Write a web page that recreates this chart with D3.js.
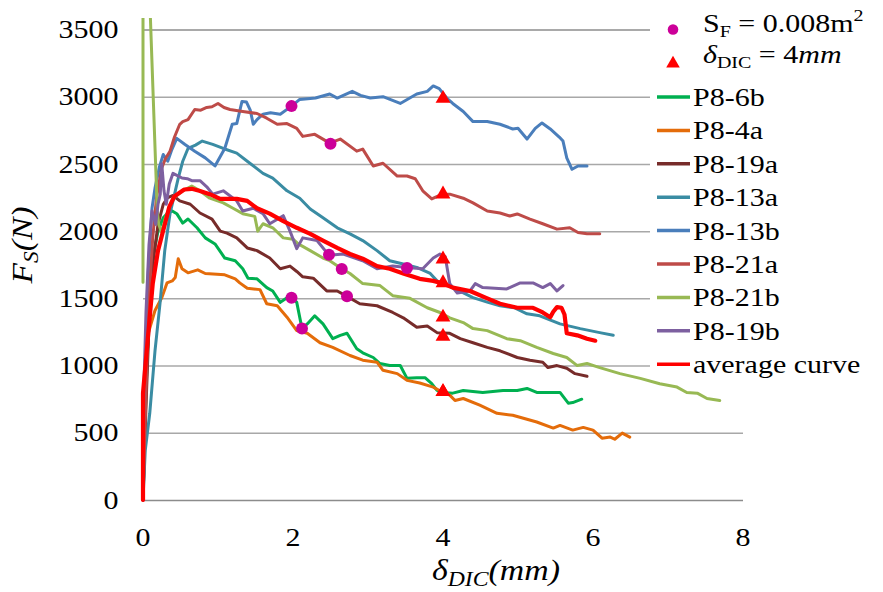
<!DOCTYPE html>
<html><head><meta charset="utf-8">
<script src="https://cdn.jsdelivr.net/npm/d3@7"></script>
<style>
body{margin:0;background:#fff}
svg{display:block}
</style>
</head><body>
<svg id="c" width="883" height="592" font-family="'Liberation Serif', Tinos, 'Times New Roman', 'DejaVu Serif', serif"></svg>
<script>
// ---------------- DATA ----------------
const xTicks = [0, 2, 4, 6, 8];
const yTicks = [0, 500, 1000, 1500, 2000, 2500, 3000, 3500];
const seriesNames = ["P8-6b","P8-4a","P8-19a","P8-13a","P8-13b","P8-21a","P8-21b","P8-19b","average curve"];

const p8_6b = [[0,0],[0.04,800],[0.08,1400],[0.13,1800],[0.2,2000],[0.27,2100],[0.32,2130],[0.39,2150],[0.45,2130],[0.53,2060],[0.6,2090],[0.72,2025],[0.83,1950],[0.96,1905],[1.09,1800],[1.23,1780],[1.33,1720],[1.4,1650],[1.52,1645],[1.65,1580],[1.73,1555],[1.83,1470],[1.92,1505],[1.99,1505],[2.05,1470],[2.12,1275],[2.19,1310],[2.29,1370],[2.4,1310],[2.53,1200],[2.63,1225],[2.72,1240],[2.85,1125],[2.93,1095],[3.07,1060],[3.16,1015],[3.29,1000],[3.43,1000],[3.52,905],[3.65,910],[3.76,910],[3.85,865],[3.92,815],[4.0,800],[4.13,795],[4.27,815],[4.53,800],[4.8,815],[4.99,815],[5.12,830],[5.25,800],[5.56,800],[5.67,720],[5.73,725],[5.85,750]];
const p8_4a = [[0,0],[0.02,500],[0.04,900],[0.07,1240],[0.16,1410],[0.25,1505],[0.32,1615],[0.39,1630],[0.43,1655],[0.47,1795],[0.52,1720],[0.6,1690],[0.73,1712],[0.83,1685],[1.09,1675],[1.23,1645],[1.29,1615],[1.39,1575],[1.56,1565],[1.65,1460],[1.79,1445],[1.92,1360],[2.05,1260],[2.19,1240],[2.36,1170],[2.53,1135],[2.76,1075],[2.93,1040],[3.12,1025],[3.2,965],[3.39,940],[3.52,890],[3.69,870],[3.87,840],[4.0,800],[4.09,780],[4.16,740],[4.27,755],[4.49,705],[4.72,645],[4.93,630],[5.25,580],[5.47,535],[5.56,555],[5.73,520],[5.87,540],[6.0,520],[6.12,460],[6.23,468],[6.29,452],[6.39,498],[6.49,468]];
const p8_19a = [[0,0],[0.04,700],[0.08,1300],[0.13,1750],[0.2,2050],[0.27,2200],[0.33,2250],[0.4,2265],[0.49,2225],[0.63,2200],[0.76,2135],[0.92,2090],[1.03,2000],[1.12,1985],[1.25,1950],[1.39,1875],[1.52,1855],[1.69,1800],[1.83,1720],[1.96,1740],[2.05,1700],[2.13,1660],[2.27,1650],[2.45,1555],[2.59,1555],[2.72,1515],[2.89,1460],[3.12,1445],[3.33,1395],[3.47,1355],[3.65,1285],[3.79,1295],[3.92,1245],[4.09,1240],[4.23,1200],[4.4,1170],[4.59,1135],[4.76,1110],[4.99,1060],[5.16,1040],[5.33,1025],[5.4,985],[5.52,1000],[5.65,980],[5.76,940],[5.92,920]];
const p8_13a = [[0,0],[0.03,370],[0.09,645],[0.16,1110],[0.23,1480],[0.29,1855],[0.36,2130],[0.41,2250],[0.47,2395],[0.53,2520],[0.6,2615],[0.7,2640],[0.79,2670],[0.93,2645],[1.07,2615],[1.25,2580],[1.39,2520],[1.6,2430],[1.73,2395],[1.92,2300],[2.09,2245],[2.23,2165],[2.4,2100],[2.59,2025],[2.76,1980],[2.93,1930],[3.12,1855],[3.29,1780],[3.47,1755],[3.65,1730],[3.83,1685],[3.92,1630],[4.13,1580],[4.4,1505],[4.6,1470],[4.76,1445],[4.95,1430],[5.12,1385],[5.29,1370],[5.56,1310],[5.83,1275],[6.09,1245],[6.27,1225]];
const p8_13b = [[0,0],[0.03,900],[0.07,1700],[0.12,2170],[0.16,2320],[0.22,2480],[0.27,2570],[0.33,2520],[0.38,2600],[0.45,2690],[0.56,2645],[0.69,2595],[0.83,2545],[0.96,2485],[1.09,2615],[1.19,2795],[1.25,2800],[1.32,2965],[1.38,2960],[1.43,2900],[1.47,2795],[1.52,2830],[1.6,2870],[1.7,2880],[1.83,2870],[1.98,2930],[2.09,2980],[2.3,2990],[2.49,3020],[2.59,2990],[2.79,3040],[2.9,3010],[3.03,2990],[3.2,3000],[3.43,2950],[3.65,3020],[3.79,3040],[3.87,3080],[3.95,3060],[4.05,2990],[4.13,2950],[4.27,2890],[4.4,2815],[4.59,2815],[4.76,2795],[4.93,2760],[5.0,2765],[5.12,2685],[5.23,2765],[5.32,2805],[5.43,2760],[5.55,2700],[5.6,2670],[5.65,2545],[5.72,2460],[5.8,2485],[5.92,2485]];
const p8_21a = [[0,0],[0.04,800],[0.08,1500],[0.13,1950],[0.18,2250],[0.25,2470],[0.3,2540],[0.36,2595],[0.42,2700],[0.49,2795],[0.53,2815],[0.6,2830],[0.69,2905],[0.77,2900],[0.85,2920],[0.92,2925],[1.0,2950],[1.08,2920],[1.16,2905],[1.33,2890],[1.52,2875],[1.65,2840],[1.79,2795],[1.92,2800],[2.05,2765],[2.13,2705],[2.29,2720],[2.49,2655],[2.63,2685],[2.85,2595],[2.93,2610],[3.07,2485],[3.2,2505],[3.39,2410],[3.52,2410],[3.63,2390],[3.73,2300],[3.85,2240],[3.99,2275],[4.09,2275],[4.27,2245],[4.4,2210],[4.59,2150],[4.76,2135],[4.89,2113],[4.99,2128],[5.16,2090],[5.33,2055],[5.52,2015],[5.69,2025],[5.8,1990],[5.92,1980],[6.09,1980]];
const p8_21b = [[0,1620],[0,3800],[0.085,3800],[0.19,2155],[0.21,2050],[0.25,1990],[0.3,2100],[0.4,2245],[0.53,2300],[0.65,2335],[0.76,2300],[0.89,2245],[1.07,2210],[1.2,2170],[1.33,2130],[1.49,2110],[1.53,2000],[1.6,2055],[1.73,2025],[1.87,1950],[2.0,1940],[2.07,1905],[2.23,1855],[2.4,1800],[2.49,1780],[2.65,1720],[2.76,1685],[2.93,1610],[3.16,1595],[3.33,1520],[3.56,1500],[3.79,1430],[3.96,1395],[4.09,1355],[4.27,1320],[4.4,1275],[4.59,1260],[4.85,1200],[5.03,1185],[5.25,1135],[5.47,1090],[5.65,1060],[5.79,1000],[5.92,1015],[6.09,985],[6.36,940],[6.63,905],[6.89,865],[7.12,840],[7.25,800],[7.39,795],[7.52,755],[7.69,740]];
const p8_19b = [[0,0],[0.01,800],[0.04,1400],[0.08,1900],[0.12,2150],[0.17,2050],[0.2,2200],[0.23,2275],[0.25,2500],[0.28,2300],[0.31,2200],[0.35,2350],[0.4,2430],[0.52,2395],[0.59,2390],[0.65,2375],[0.76,2375],[0.85,2330],[0.93,2275],[1.07,2300],[1.25,2225],[1.33,2150],[1.47,2170],[1.6,2130],[1.69,2055],[1.87,2115],[1.96,2000],[2.05,1870],[2.13,1950],[2.32,1930],[2.48,1820],[2.67,1830],[2.93,1780],[3.12,1720],[3.33,1740],[3.52,1730],[3.73,1720],[3.87,1800],[3.96,1830],[4.03,1810],[4.09,1610],[4.19,1540],[4.36,1555],[4.43,1610],[4.53,1580],[4.85,1570],[5.03,1615],[5.2,1615],[5.33,1580],[5.43,1610],[5.52,1555],[5.6,1595]];
const avgCurve = [[0,0],[0,795],[0.07,1240],[0.13,1610],[0.2,1855],[0.29,2050],[0.35,2180],[0.42,2260],[0.55,2310],[0.65,2315],[0.75,2300],[0.89,2275],[1.03,2240],[1.25,2240],[1.39,2225],[1.52,2170],[1.69,2130],[1.87,2075],[2.05,2025],[2.23,1980],[2.4,1930],[2.59,1875],[2.76,1830],[2.93,1795],[3.12,1740],[3.29,1720],[3.47,1685],[3.69,1645],[3.87,1630],[4.0,1610],[4.13,1580],[4.36,1555],[4.59,1500],[4.76,1460],[4.99,1430],[5.2,1430],[5.33,1395],[5.43,1360],[5.47,1400],[5.52,1435],[5.58,1430],[5.62,1380],[5.65,1240],[5.79,1225],[5.92,1200],[6.03,1185]];

// S_F = 0.008 m^2 points (circles)
const sfX = [1.98, 2.12, 2.72, 3.52, 1.98, 2.5, 2.65, 2.48];
const sfY = [1505, 1275, 1515, 1725, 2930, 2650, 1718, 1825];
// delta_DIC = 4 mm points (triangles)
const dicX = [4, 4, 4, 4, 4, 4, 4, 4];
const dicY = [805, 805, 1217, 1615, 2986, 2275, 1360, 1792];

// ---------------- STYLE ----------------
const seriesData = [p8_6b, p8_4a, p8_19a, p8_13a, p8_13b, p8_21a, p8_21b, p8_19b, avgCurve];
const colors = ["#00B050","#E46C0A","#772C2A","#3A8CA3","#4A7EBB","#BE4B48","#98B954","#7D60A0","#FF0000"];
const widths = [3,3,3,3,3,3,3,3,4.2];

const svg = d3.select("#c");
const x = d3.scaleLinear().domain([0, 8]).range([143, 743]);
const y = d3.scaleLinear().domain([0, 3500]).range([500, 29.5]);

svg.append("defs").append("clipPath").attr("id","clip")
  .append("rect").attr("x",136).attr("y",18).attr("width",620).attr("height",490);

// gridlines
const grid = svg.append("g").attr("transform",`translate(${x(0)},0)`)
  .call(d3.axisLeft(y).tickValues(yTicks).tickSize(-(x(8)-x(0))).tickFormat(""));
grid.select(".domain").remove();
grid.selectAll(".tick line")
  .attr("stroke", d => (d === 0 || d === 3500) ? "#8C8C8C" : "#A8A8A8")
  .attr("stroke-width", 1.5);

// y tick labels
svg.append("g").selectAll("g").data(yTicks).join("g")
  .attr("transform", d => `translate(118.5,${y(d)+8.7}) scale(1,0.84)`)
  .append("text").attr("text-anchor","end").attr("font-size",30).attr("fill","#000").text(d => d);

// x tick labels
svg.append("g").selectAll("g").data(xTicks).join("g")
  .attr("transform", d => `translate(${x(d)},545.5) scale(1,0.84)`)
  .append("text").attr("text-anchor","middle").attr("font-size",30).attr("fill","#000").text(d => d);

// curves
const line = d3.line().x(d => x(d[0])).y(d => y(d[1]));
const plot = svg.append("g").attr("clip-path","url(#clip)");
plot.selectAll("path.s").data(seriesData).join("path")
  .attr("class","s")
  .attr("d", line)
  .attr("fill","none")
  .attr("stroke",(d,i)=>colors[i])
  .attr("stroke-width",(d,i)=>widths[i])
  .attr("stroke-linejoin","round")
  .attr("stroke-linecap","round");

// markers
const tri = d3.symbol().type(d3.symbolTriangle).size(95);
plot.selectAll("path.t").data(dicX).join("path")
  .attr("class","t")
  .attr("d", tri)
  .attr("transform",(d,i)=>`translate(${x(d)},${y(dicY[i])})`)
  .attr("fill","#FF0000");
plot.selectAll("circle.c").data(sfX).join("circle")
  .attr("class","c")
  .attr("cx", d => x(d)).attr("cy",(d,i)=>y(sfY[i])).attr("r",6)
  .attr("fill","#CC0099");

// legend
const lg = svg.append("g");
lg.append("rect").attr("x",650).attr("y",0).attr("width",233).attr("height",373).attr("fill","#fff");
lg.append("circle").attr("cx",673).attr("cy",29.5).attr("r",5.3).attr("fill","#CC0099");
lg.append("path").attr("d", d3.symbol().type(d3.symbolTriangle).size(80)).attr("transform","translate(673,63.5)").attr("fill","#FF0000");

const t0 = lg.append("g").attr("transform","translate(703,31.5) scale(1,0.84)").append("text").attr("font-size",30).attr("fill","#000");
t0.append("tspan").text("S");
t0.append("tspan").attr("font-size",20).attr("dy",6).text("F");
t0.append("tspan").attr("dy",-6).text(" = 0.008m");
t0.append("tspan").attr("font-size",20).attr("dy",-12).text("2");

const t1 = lg.append("g").attr("transform","translate(703,62.5) scale(1,0.84)").append("text").attr("font-size",30).attr("fill","#000");
t1.append("tspan").attr("font-style","italic").text("δ");
t1.append("tspan").attr("font-size",20).attr("dy",7).text("DIC");
t1.append("tspan").attr("dy",-7).text(" = 4");
t1.append("tspan").attr("font-style","italic").text("mm");

const rows = lg.selectAll("g.row").data(seriesNames).join("g").attr("class","row")
  .attr("transform",(d,i)=>`translate(0,${97 + 33.4*i})`);
rows.append("line").attr("x1",657).attr("x2",690).attr("y1",0).attr("y2",0)
  .attr("stroke",(d,i)=>colors[i]).attr("stroke-width",3.5);
rows.append("g").attr("transform","translate(693,9) scale(1,0.84)")
  .append("text").attr("font-size",30).attr("fill","#000").text(d=>d);

// axis titles
const xt = svg.append("text").attr("x",432).attr("y",580).attr("font-size",30).attr("fill","#000")
  .attr("font-style","italic").attr("textLength",128).attr("lengthAdjust","spacingAndGlyphs");
xt.append("tspan").text("δ");
xt.append("tspan").attr("font-size",21).attr("dy",6).text("DIC");
xt.append("tspan").attr("dy",-6).text("(mm)");

const yt = svg.append("g").attr("transform","translate(32,245) rotate(-90)")
  .append("text").attr("text-anchor","middle").attr("font-size",30).attr("font-style","italic").attr("fill","#000")
  .attr("textLength",77).attr("lengthAdjust","spacingAndGlyphs");
yt.append("tspan").text("F");
yt.append("tspan").attr("font-size",21).attr("dy",6).text("S");
yt.append("tspan").attr("dy",-6).text("(N)");
</script>
</body></html>
